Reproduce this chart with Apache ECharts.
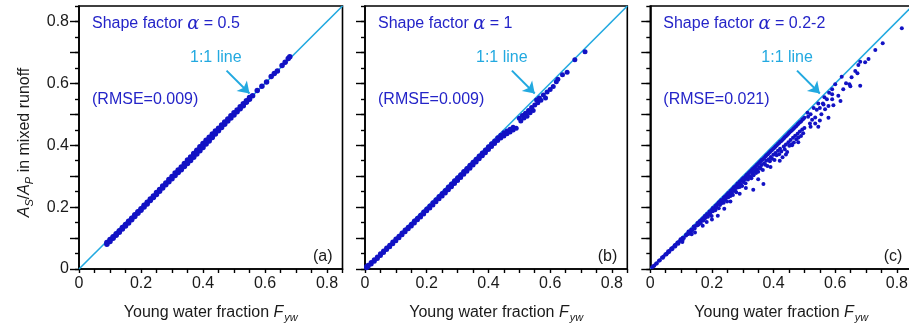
<!DOCTYPE html>
<html>
<head>
<meta charset="utf-8">
<script src="https://cdn.jsdelivr.net/npm/echarts@6/dist/echarts.min.js"></script>
<style>
  html, body { margin: 0; padding: 0; background: #fff; }
  #chart { width: 909px; height: 327px; }
</style>
</head>
<body>
<div id="chart"></div>
<script>
// tick labels and ticks
const xTickLabels = [0, 0.2, 0.4, 0.6, 0.8];
const majorTicks = [0, 0.1, 0.2, 0.3, 0.4, 0.5, 0.6, 0.7, 0.8];
const oneToOne = [[0, 0], [0.85, 0.85]];

const alphaLabels = ['0.5', '1', '0.2-2'];
const rmseLabels = ['(RMSE=0.009)', '(RMSE=0.009)', '(RMSE=0.021)'];
const panelTags = ['(a)', '(b)', '(c)'];

// arrow pointing to the 1:1 line (data coords)
const arrowTail = [0.476, 0.641];
const arrowTip = [0.550, 0.567];

// (a) shape factor 0.5
const scatterA = [
  [0.09,0.080],[0.09,0.086],[0.10,0.089],[0.10,0.095],[0.11,0.099],[0.11,0.104],[0.12,0.109],[0.12,0.114],
  [0.13,0.119],[0.13,0.124],[0.14,0.129],[0.14,0.134],[0.15,0.139],[0.15,0.144],[0.16,0.149],[0.16,0.154],
  [0.17,0.159],[0.17,0.164],[0.18,0.170],[0.18,0.175],[0.19,0.180],[0.19,0.185],[0.20,0.190],[0.20,0.195],
  [0.21,0.200],[0.21,0.206],[0.22,0.210],[0.22,0.216],[0.23,0.221],[0.23,0.226],[0.24,0.231],[0.24,0.236],
  [0.25,0.241],[0.25,0.247],[0.26,0.251],[0.26,0.257],[0.27,0.262],[0.27,0.268],[0.28,0.272],[0.28,0.278],
  [0.29,0.282],[0.29,0.289],[0.30,0.292],[0.30,0.299],[0.31,0.302],[0.31,0.310],
  [0.32,0.312],[0.32,0.320],[0.32,0.316],[0.33,0.321],[0.33,0.330],[0.33,0.326],[0.34,0.331],[0.34,0.341],[0.34,0.336],
  [0.35,0.341],[0.35,0.352],[0.35,0.346],[0.36,0.351],[0.36,0.362],[0.36,0.357],[0.37,0.361],[0.37,0.373],[0.37,0.367],
  [0.38,0.372],[0.38,0.384],[0.38,0.378],[0.39,0.382],[0.39,0.395],[0.39,0.389],[0.40,0.393],[0.40,0.406],[0.40,0.400],
  [0.41,0.404],[0.41,0.416],[0.41,0.410],[0.42,0.414],[0.42,0.426],[0.42,0.420],[0.43,0.425],[0.43,0.436],[0.43,0.431],
  [0.44,0.436],[0.44,0.446],[0.44,0.441],[0.45,0.447],[0.45,0.455],[0.46,0.457],[0.46,0.465],[0.47,0.468],[0.47,0.475],
  [0.48,0.478],[0.48,0.485],[0.49,0.488],[0.49,0.495],[0.50,0.498],[0.50,0.505],[0.51,0.508],[0.51,0.514],
  [0.52,0.518],[0.52,0.524],[0.53,0.528],[0.53,0.534],[0.54,0.539],[0.54,0.544],[0.55,0.549],[0.55,0.554],
  [0.56,0.560],[0.575,0.577],[0.59,0.591],[0.605,0.604],[0.62,0.622],[0.63,0.632],[0.64,0.640],
  [0.655,0.658],[0.665,0.668],[0.675,0.680],[0.68,0.686]
];

// (b) shape factor 1
const scatterB = [
  [0.005,0.004],[0.005,0.008],[0.01,0.008],[0.01,0.012],[0.02,0.016],[0.02,0.021],[0.03,0.025],[0.03,0.030],
  [0.04,0.034],[0.04,0.039],[0.05,0.044],[0.05,0.049],[0.06,0.053],[0.06,0.058],[0.07,0.063],[0.07,0.068],
  [0.08,0.072],[0.08,0.077],[0.09,0.082],[0.09,0.087],[0.10,0.091],[0.10,0.097],[0.11,0.101],[0.11,0.106],
  [0.12,0.111],[0.12,0.116],[0.13,0.120],[0.13,0.126],[0.14,0.130],[0.14,0.135],[0.15,0.139],[0.15,0.145],
  [0.16,0.149],[0.16,0.155],[0.17,0.159],[0.17,0.164],[0.18,0.168],[0.18,0.174],[0.19,0.178],[0.19,0.184],
  [0.20,0.188],[0.20,0.194],[0.21,0.197],[0.21,0.204],[0.22,0.207],[0.22,0.214],[0.23,0.217],[0.23,0.224],
  [0.24,0.227],[0.24,0.234],[0.25,0.236],[0.25,0.244],
  [0.26,0.246],[0.26,0.254],[0.26,0.250],[0.27,0.256],[0.27,0.265],[0.27,0.260],[0.28,0.266],[0.28,0.275],[0.28,0.270],
  [0.29,0.276],[0.29,0.285],[0.29,0.280],[0.30,0.286],[0.30,0.295],[0.30,0.290],[0.31,0.296],[0.31,0.305],[0.31,0.300],
  [0.32,0.306],[0.32,0.315],[0.32,0.310],[0.33,0.316],[0.33,0.325],[0.33,0.320],[0.34,0.326],[0.34,0.335],[0.34,0.330],
  [0.35,0.336],[0.35,0.345],[0.35,0.340],[0.36,0.346],[0.36,0.355],[0.36,0.350],[0.37,0.356],[0.37,0.365],[0.37,0.360],
  [0.38,0.366],[0.38,0.375],[0.38,0.370],[0.39,0.376],[0.39,0.385],[0.39,0.380],[0.40,0.386],[0.40,0.395],[0.40,0.390],
  [0.41,0.396],[0.41,0.405],[0.42,0.406],[0.42,0.414],[0.43,0.415],[0.43,0.424],[0.44,0.423],[0.44,0.432],
  [0.45,0.430],[0.45,0.440],[0.46,0.437],[0.46,0.446],[0.47,0.443],[0.47,0.452],[0.48,0.449],[0.48,0.458],[0.49,0.455],
  [0.50,0.487],[0.505,0.478],[0.51,0.496],[0.515,0.488],[0.52,0.503],[0.525,0.494],[0.53,0.512],[0.535,0.505],
  [0.54,0.522],[0.545,0.512],[0.55,0.530],[0.556,0.546],[0.56,0.537],[0.565,0.553],[0.57,0.545],[0.578,0.562],
  [0.585,0.553],[0.59,0.572],[0.60,0.580],[0.61,0.590],[0.62,0.605],[0.625,0.613],[0.64,0.628],[0.655,0.636],
  [0.68,0.676],[0.713,0.702]
];

// (c) shape factor 0.2-2
const scatterC = [
  [0.006,0.006],[0.011,0.010],[0.013,0.011],[0.019,0.018],[0.021,0.018],[0.028,0.027],[0.031,0.028],
  [0.038,0.037],[0.041,0.036],[0.043,0.040],[0.049,0.048],[0.052,0.047],[0.054,0.050],
  [0.058,0.057],[0.061,0.055],[0.063,0.059],[0.068,0.066],[0.071,0.064],[0.073,0.069],
  [0.079,0.077],[0.081,0.073],[0.083,0.078],[0.088,0.086],[0.091,0.082],[0.093,0.087],
  [0.098,0.096],[0.101,0.091],[0.103,0.095],[0.104,0.087],
  [0.105,0.101],[0.105,0.094],[0.109,0.100],[0.116,0.108],[0.116,0.111],[0.119,0.112],[0.124,0.121],[0.124,0.113],
  [0.127,0.118],[0.133,0.128],[0.133,0.122],[0.136,0.126],[0.141,0.137],[0.144,0.131],[0.148,0.140],[0.153,0.149],
  [0.153,0.141],[0.157,0.144],[0.160,0.154],[0.164,0.157],[0.164,0.149],[0.168,0.161],[0.172,0.165],[0.172,0.157],
  [0.177,0.171],[0.177,0.163],[0.180,0.167],[0.184,0.178],[0.187,0.175],[0.187,0.169],[0.192,0.186],[0.192,0.178],
  [0.195,0.183],[0.199,0.191],[0.199,0.171],[0.203,0.197],[0.203,0.187],[0.207,0.195],[0.211,0.204],[0.211,0.190],
  [0.215,0.207],[0.215,0.199],[0.219,0.210],[0.222,0.215],[0.222,0.196],[0.226,0.218],[0.226,0.207],[0.230,0.223],
  [0.230,0.212],[0.234,0.221],[0.238,0.230],[0.238,0.214],[0.241,0.233],[0.241,0.224],[0.245,0.236],[0.245,0.229],
  [0.249,0.241],[0.249,0.218],[0.253,0.246],[0.253,0.232],[0.256,0.240],[0.260,0.252],[0.260,0.236],[0.264,0.255],
  [0.264,0.245],[0.268,0.259],[0.268,0.239],[0.271,0.264],[0.271,0.252],[0.275,0.266],[0.275,0.255],[0.279,0.270],
  [0.279,0.248],[0.283,0.276],[0.283,0.263],[0.286,0.272],[0.290,0.282],[0.290,0.265],[0.294,0.285],[0.294,0.274],
  [0.298,0.290],[0.298,0.268],[0.302,0.294],[0.302,0.281],[0.305,0.289],[0.309,0.300],[0.309,0.277],[0.313,0.305],
  [0.313,0.292],[0.317,0.307],[0.317,0.289],[0.320,0.311],[0.320,0.297],[0.324,0.315],[0.324,0.300],[0.328,0.318],
  [0.328,0.293],[0.331,0.322],[0.331,0.309],[0.335,0.326],[0.335,0.303],[0.339,0.330],[0.339,0.315],[0.343,0.333],
  [0.343,0.310],[0.346,0.337],[0.346,0.322],[0.350,0.340],[0.350,0.314],[0.354,0.345],[0.354,0.329],[0.358,0.348],
  [0.358,0.325],[0.361,0.352],[0.361,0.336],[0.365,0.355],[0.365,0.320],[0.369,0.359],[0.369,0.342],[0.373,0.363],
  [0.373,0.337],[0.376,0.367],[0.376,0.350],[0.380,0.370],[0.380,0.333],[0.384,0.374],[0.384,0.355],[0.388,0.378],
  [0.388,0.348],[0.391,0.381],[0.391,0.362],[0.395,0.385],[0.395,0.356],[0.399,0.389],[0.399,0.369],[0.403,0.392],
  [0.403,0.352],[0.406,0.396],[0.406,0.375],[0.410,0.399],[0.410,0.368],[0.414,0.404],[0.414,0.382],[0.418,0.407],
  [0.418,0.371],[0.421,0.411],[0.421,0.389],[0.425,0.414],[0.425,0.380],[0.429,0.418],[0.429,0.361],[0.433,0.422],
  [0.433,0.396],[0.436,0.426],[0.436,0.387],[0.440,0.429],[0.440,0.402],[0.444,0.433],[0.444,0.378],[0.448,0.437],
  [0.448,0.410],[0.451,0.441],[0.451,0.398],[0.455,0.444],[0.455,0.417],[0.459,0.448],[0.459,0.403],[0.463,0.452],
  [0.463,0.424],[0.466,0.455],[0.466,0.409],[0.470,0.459],[0.470,0.431],[0.474,0.462],[0.474,0.419],[0.478,0.467],
  [0.478,0.437],[0.481,0.470],[0.481,0.425],[0.485,0.474],[0.485,0.444],[0.489,0.477],[0.489,0.430],[0.493,0.482],
  [0.493,0.451],[0.496,0.485],[0.496,0.439],[0.500,0.489],[0.500,0.456],
  [0.134,0.112],[0.145,0.118],[0.170,0.140],[0.183,0.152],[0.200,0.160],[0.219,0.172],[0.240,0.195],
  [0.260,0.218],[0.290,0.243],[0.310,0.262],[0.334,0.256],[0.350,0.290],[0.367,0.275],[0.390,0.330],
  [0.420,0.350],[0.440,0.370],[0.460,0.400],[0.480,0.410],
  [0.510,0.505],[0.512,0.492],[0.518,0.470],[0.520,0.500],[0.525,0.482],[0.530,0.520],[0.535,0.490],[0.540,0.515],
  [0.545,0.535],[0.545,0.460],[0.550,0.520],[0.555,0.500],[0.560,0.535],[0.562,0.532],[0.565,0.555],[0.567,0.516],
  [0.573,0.549],[0.578,0.527],[0.578,0.489],[0.580,0.570],[0.590,0.581],[0.590,0.565],[0.590,0.549],[0.594,0.529],
  [0.600,0.597],[0.520,0.460],[0.535,0.470],[0.550,0.480],
  [0.617,0.543],[0.621,0.621],[0.626,0.581],[0.646,0.597],[0.649,0.591],[0.653,0.620],[0.672,0.633],[0.675,0.659],
  [0.681,0.670],[0.681,0.592],[0.697,0.668],[0.708,0.679],[0.730,0.708],[0.754,0.730],[0.816,0.778],[0.610,0.560],
  [0.635,0.600],[0.665,0.640]
];

const FONT = '"Liberation Sans", Arial, Helvetica, sans-serif';
const BLUE_TEXT = '#2424c8';
const DOT = '#1212c4';
const CYAN = '#22a9e0';
const INK = '#1a1a1a';

const panels = [
  { left: 79, width: 263.5, data: scatterA, dot: 5.5 },
  { left: 365, width: 262.3, data: scatterB, dot: 5 },
  { left: 650.3, width: 262, data: scatterC, dot: 4 }
];

function tickFmt(v) {
  const hit = xTickLabels.find(t => Math.abs(t - v) < 1e-6);
  if (hit === undefined) return '';
  return hit === 0 ? '0' : hit.toFixed(1);
}

const grids = [], xAxes = [], yAxes = [], series = [], graphics = [];

panels.forEach((p, i) => {
  grids.push({
    left: p.left, top: 6, width: p.width, height: 263,
    show: true, borderColor: '#000', borderWidth: 1.6,
    backgroundColor: 'transparent', containLabel: false, outerBoundsMode: 'none'
  });
  xAxes.push({
    gridIndex: i, type: 'value', min: 0, max: 0.85, interval: 0.05,
    axisLine: { lineStyle: { color: '#000', width: 1.6 } },
    axisTick: { length: 4, lineStyle: { color: '#000', width: 1.4 } },
    axisLabel: { formatter: tickFmt, color: INK, fontSize: 16, fontFamily: FONT, margin: 7 },
    splitLine: { show: false },
    name: 'Young water fraction {i|F}{s|yw}',
    nameLocation: 'middle', nameGap: 33,
    nameTextStyle: {
      color: INK, fontSize: 16, fontFamily: FONT,
      rich: {
        i: { fontStyle: 'italic', fontSize: 16, fontFamily: FONT, color: INK },
        s: { fontStyle: 'italic', fontSize: 11, fontFamily: FONT, color: INK, padding: [10, 0, 0, 1] }
      }
    }
  });
  // main y axis: small ticks every 0.05
  yAxes.push({
    gridIndex: i, type: 'value', position: 'left', min: 0, max: 0.85, interval: 0.05,
    axisLine: { lineStyle: { color: '#000', width: 1.6 } },
    axisTick: { length: 4, lineStyle: { color: '#000', width: 1.4 } },
    axisLabel: { show: i === 0, formatter: tickFmt, color: INK, fontSize: 16, fontFamily: FONT, margin: 10 },
    splitLine: { show: false },
    name: i === 0 ? '{i|A}{s|S}/{i|A}{s|P} in mixed runoff' : '',
    nameLocation: 'middle', nameGap: 44, nameRotate: 90,
    nameTextStyle: {
      color: INK, fontSize: 16, fontFamily: FONT, padding: [0, 10, 0, 0],
      rich: {
        i: { fontStyle: 'italic', fontSize: 16, fontFamily: FONT, color: INK },
        s: { fontStyle: 'italic', fontSize: 11, fontFamily: FONT, color: INK, padding: [10, 0, 0, 0] }
      }
    }
  });
  // second y axis: long ticks every 0.1
  yAxes.push({
    gridIndex: i, type: 'value', position: 'left', offset: 0, min: 0, max: 0.85, interval: 0.1,
    axisLine: { show: false },
    axisTick: { show: true, length: 9, customValues: majorTicks, lineStyle: { color: '#000', width: 1.4 } },
    axisLabel: { show: false },
    splitLine: { show: false }
  });

  series.push({
    type: 'line', xAxisIndex: i, yAxisIndex: 2 * i, data: oneToOne,
    showSymbol: false, symbol: 'none', silent: true, z: 2,
    lineStyle: { color: CYAN, width: 1.6 },
    markLine: {
      silent: true, symbol: ['none', 'arrow'], symbolSize: 11,
      lineStyle: { color: CYAN, width: 2, type: 'solid' },
      label: { show: false },
      emphasis: { disabled: true },
      data: [[{ coord: arrowTail }, { coord: arrowTip }]]
    }
  });
  series.push({
    type: 'scatter', xAxisIndex: i, yAxisIndex: 2 * i, data: p.data,
    symbol: 'circle', symbolSize: p.dot, silent: true, z: 3,
    itemStyle: { color: DOT, opacity: 1 },
    emphasis: { disabled: true }
  });

  const L = p.left;
  graphics.push({
    type: 'text', x: L + 13, y: 24, silent: true, z: 100,
    style: {
      text: 'Shape factor {a|α} = ' + alphaLabels[i],
      fill: BLUE_TEXT, fontSize: 16, fontFamily: FONT, verticalAlign: 'middle', align: 'left',
      rich: { a: { fontStyle: 'italic', fontSize: 18, fontFamily: '"DejaVu Serif", serif', fill: BLUE_TEXT } }
    }
  });
  graphics.push({
    type: 'text', x: L + 111, y: 58, silent: true, z: 100,
    style: { text: '1:1 line', fill: CYAN, fontSize: 16, fontFamily: FONT, verticalAlign: 'middle', align: 'left' }
  });
  graphics.push({
    type: 'text', x: L + 13, y: 100, silent: true, z: 100,
    style: { text: rmseLabels[i], fill: BLUE_TEXT, fontSize: 16, fontFamily: FONT, verticalAlign: 'middle', align: 'left' }
  });
  graphics.push({
    type: 'text', x: L + p.width - 10, y: 257, silent: true, z: 100,
    style: { text: panelTags[i], fill: INK, fontSize: 16, fontFamily: FONT, verticalAlign: 'middle', align: 'right' }
  });
});

const chart = echarts.init(document.getElementById('chart'));
chart.setOption({
  animation: false,
  backgroundColor: '#fff',
  tooltip: { show: false },
  grid: grids,
  xAxis: xAxes,
  yAxis: yAxes,
  series: series,
  graphic: graphics
});
</script>
</body>
</html>
